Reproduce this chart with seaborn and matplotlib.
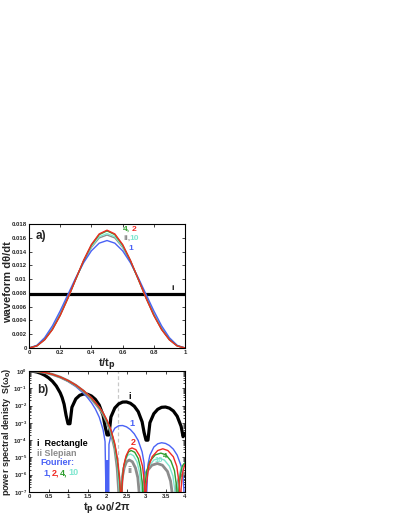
import seaborn as sns
import matplotlib.pyplot as plt
import numpy as np
from matplotlib.ticker import MultipleLocator, FuncFormatter, LogLocator, NullFormatter

# Panel a) waveforms, t/t_p
t_vals = [0, 0.05, 0.1, 0.15, 0.2, 0.25, 0.3, 0.35, 0.4, 0.45, 0.5,
          0.55, 0.6, 0.65, 0.7, 0.75, 0.8, 0.85, 0.9, 0.95, 1.0]
wave_rect_t = [0, 1]
wave_rect = [0.0079, 0.0079]
wave_f1 = [0, 0.00038, 0.00149, 0.00321, 0.00539, 0.0078, 0.01021, 0.01238, 0.01411, 0.01522, 0.0156,
           0.01522, 0.01411, 0.01238, 0.01021, 0.0078, 0.00539, 0.00321, 0.00149, 0.00038, 0]
wave_f2 = [0, 0.00029, 0.00118, 0.00267, 0.00473, 0.00725, 0.01002, 0.01273, 0.01502, 0.01656, 0.0171,
           0.01656, 0.01502, 0.01273, 0.01002, 0.00725, 0.00473, 0.00267, 0.00118, 0.00029, 0]
wave_f4 = [0, 0.00030, 0.00120, 0.00270, 0.00476, 0.00727, 0.01000, 0.01268, 0.01494, 0.01646, 0.0170,
           0.01646, 0.01494, 0.01268, 0.01000, 0.00727, 0.00476, 0.00270, 0.00120, 0.00030, 0]
wave_f10 = [0, 0.00032, 0.00127, 0.00281, 0.00490, 0.00737, 0.01003, 0.01259, 0.01473, 0.01617, 0.0166,
            0.01617, 0.01473, 0.01259, 0.01003, 0.00737, 0.00490, 0.00281, 0.00127, 0.00032, 0]
wave_slep = [0, 0.00033, 0.00131, 0.00288, 0.00498, 0.00745, 0.01005, 0.01253, 0.01460, 0.01598, 0.0164,
             0.01598, 0.01460, 0.01253, 0.01005, 0.00745, 0.00498, 0.00288, 0.00131, 0.00033, 0]

# Panel b) spectra, exponents of 10 (read off the log axis)
rect_x = [0, 0.1, 0.2, 0.3, 0.4, 0.5, 0.6, 0.7, 0.8, 0.85, 0.9, 0.95, 1.0, 1.05, 1.1,
          1.2, 1.3, 1.4, 1.5, 1.6, 1.7, 1.8, 1.9, 1.95, 2.0, 2.05, 2.1,
          2.2, 2.3, 2.4, 2.5, 2.6, 2.7, 2.8, 2.9, 2.95, 3.0, 3.05, 3.1,
          3.2, 3.3, 3.4, 3.5, 3.6, 3.7, 3.8, 3.9, 3.95, 4.0]
rect_e = [0, -0.014, -0.058, -0.133, -0.242, -0.392, -0.594, -0.869, -1.262, -1.539, -1.923, -2.56, -3.05, -3.05, -2.10,
          -1.614, -1.406, -1.330, -1.344, -1.446, -1.639, -1.966, -2.572, -3.19, -3.7, -3.7, -2.66,
          -2.14, -1.902, -1.798, -1.79, -1.868, -2.041, -2.35, -2.94, -3.55, -4.0, -4.0, -2.99,
          -2.47, -2.216, -2.10, -2.084, -2.15, -2.31, -2.62, -3.20, -3.80, -3.6]

f1_x = [0, 0.2, 0.4, 0.6, 0.8, 1.0, 1.2, 1.4, 1.5, 1.6, 1.7, 1.8, 1.9, 1.95,
        1.98, 1.99, 2.0, 2.01, 2.02, 2.03, 2.04,
        2.05, 2.1, 2.2, 2.3, 2.4, 2.5, 2.6, 2.7, 2.8, 2.9, 2.95,
        3.0, 3.05, 3.1, 3.2, 3.3, 3.4, 3.5, 3.6, 3.7, 3.8, 3.9, 3.95, 4.0]
f1_e = [0, -0.022, -0.091, -0.206, -0.375, -0.602, -0.901, -1.295, -1.54, -1.832, -2.192, -2.666, -3.405, -4.08,
        -8, -5.2, -8, -5.2, -8, -5.2, -8,
        -4.24, -3.725, -3.31, -3.167, -3.154, -3.23, -3.39, -3.638, -4.02, -4.68, -5.32,
        -8, -5.41, -4.87, -4.40, -4.21, -4.15, -4.19, -4.31, -4.52, -4.87, -5.50, -6.13, -8]

f2_x = [0, 0.2, 0.4, 0.6, 0.8, 1.0, 1.2, 1.4, 1.6, 1.8, 1.9, 2.0, 2.1, 2.2, 2.27, 2.32, 2.37,
        2.39, 2.43, 2.49, 2.57, 2.64, 2.74, 2.84, 2.91, 2.96, 2.98,
        3.01, 3.07, 3.16, 3.3, 3.43, 3.56, 3.7, 3.79, 3.85, 3.88,
        3.9, 3.93, 3.97, 4.0]
f2_e = [0, -0.02, -0.085, -0.19, -0.345, -0.55, -0.81, -1.14, -1.55, -2.08, -2.42, -2.85, -3.4, -4.2, -5.1, -6.1, -8,
        -6.5, -5.45, -4.9, -4.53, -4.45, -4.55, -4.92, -5.5, -6.5, -8,
        -6.55, -5.5, -4.95, -4.6, -4.5, -4.6, -4.96, -5.52, -6.55, -8,
        -6.8, -6.0, -5.6, -5.4]

f4_x = [0, 0.2, 0.4, 0.6, 0.8, 1.0, 1.2, 1.4, 1.6, 1.8, 1.9, 2.0, 2.1, 2.2, 2.27, 2.32, 2.36,
        2.38, 2.42, 2.48, 2.55, 2.62, 2.71, 2.8, 2.86, 2.91, 2.93,
        2.96, 3.02, 3.1, 3.24, 3.38, 3.51, 3.64, 3.73, 3.79, 3.82,
        3.84, 3.88, 3.93, 4.0]
f4_e = [0, -0.02, -0.086, -0.192, -0.35, -0.555, -0.82, -1.15, -1.57, -2.1, -2.45, -2.9, -3.45, -4.3, -5.25, -6.4, -8,
        -6.65, -5.6, -5.05, -4.68, -4.6, -4.7, -5.06, -5.62, -6.65, -8,
        -6.8, -5.77, -5.21, -4.85, -4.75, -4.85, -5.21, -5.77, -6.8, -8,
        -6.9, -6.0, -5.5, -5.3]

f10_x = [0, 0.2, 0.4, 0.6, 0.8, 1.0, 1.2, 1.4, 1.6, 1.8, 1.9, 2.0, 2.1, 2.2, 2.27, 2.31, 2.35,
         2.37, 2.41, 2.46, 2.53, 2.6, 2.68, 2.77, 2.83, 2.88, 2.9,
         2.93, 2.99, 3.07, 3.2, 3.34, 3.47, 3.6, 3.69, 3.75, 3.78,
         3.8, 3.84, 3.9, 4.0]
f10_e = [0, -0.02, -0.087, -0.195, -0.352, -0.56, -0.825, -1.16, -1.58, -2.12, -2.48, -2.93, -3.5, -4.4, -5.4, -6.7, -8,
         -6.85, -5.8, -5.25, -4.88, -4.8, -4.9, -5.26, -5.82, -6.85, -8,
         -7.1, -6.07, -5.51, -5.15, -5.05, -5.15, -5.51, -6.07, -7.1, -8,
         -7.0, -6.1, -5.6, -5.3]

slep_x = [0, 0.2, 0.4, 0.6, 0.8, 1.0, 1.2, 1.4, 1.6, 1.8, 1.9, 2.0, 2.1, 2.2, 2.26, 2.3, 2.34,
          2.36, 2.39, 2.44, 2.5, 2.57, 2.65, 2.73, 2.79, 2.83, 2.85,
          2.88, 2.94, 3.02, 3.15, 3.29, 3.42, 3.55, 3.63, 3.69, 3.72,
          3.74, 3.79, 3.87, 4.0]
slep_e = [0, -0.02, -0.088, -0.197, -0.355, -0.565, -0.83, -1.17, -1.6, -2.15, -2.5, -2.97, -3.55, -4.5, -5.6, -7.0, -8,
          -7.2, -6.17, -5.6, -5.25, -5.15, -5.25, -5.61, -6.17, -7.2, -8,
          -7.4, -6.37, -5.81, -5.45, -5.35, -5.45, -5.81, -6.37, -7.4, -8,
          -7.5, -6.6, -6.1, -5.9]

cutoff_x = 2.28

c_rect = "black"
c_slep = "#8c8c8c"
c1 = "#4a62f5"
c2 = "#f02a24"
c4 = "#2e9e2e"
c10 = "#7ee6cf"

sns.set_theme(style="ticks")
plt.rcParams['font.family'] = ['Liberation Sans', 'DejaVu Sans']
plt.rcParams['mathtext.fontset'] = 'dejavusans'

fig = plt.figure(figsize=(3.99, 5.16), dpi=100)
ax1 = fig.add_axes([0.0727, 0.3256, 0.391, 0.2403])
ax2 = fig.add_axes([0.0727, 0.0465, 0.391, 0.2345])

# ---- panel a
sns.lineplot(x=wave_rect_t, y=wave_rect, ax=ax1, color=c_rect, lw=2.3, estimator=None)
sns.lineplot(x=t_vals, y=wave_slep, ax=ax1, color=c_slep, lw=1.0, estimator=None)
sns.lineplot(x=t_vals, y=wave_f10, ax=ax1, color=c10, lw=1.0, estimator=None)
sns.lineplot(x=t_vals, y=wave_f1, ax=ax1, color=c1, lw=1.0, estimator=None)
sns.lineplot(x=t_vals, y=wave_f4, ax=ax1, color=c4, lw=1.0, estimator=None)
sns.lineplot(x=t_vals, y=wave_f2, ax=ax1, color=c2, lw=1.0, estimator=None)
ax1.set_xlim(0, 1)
ax1.set_ylim(0, 0.018)
ax1.xaxis.set_major_locator(MultipleLocator(0.2))
ax1.yaxis.set_major_locator(MultipleLocator(0.002))
ax1.xaxis.set_major_formatter(FuncFormatter(lambda v, p: "%g" % round(v, 4)))
ax1.yaxis.set_major_formatter(FuncFormatter(lambda v, p: "%g" % round(v, 4)))
ax1.set_xlabel("t/t$_\\mathbf{p}$", fontsize=8, fontweight="bold", labelpad=1)
ax1.set_ylabel("waveform d\u03b8/dt", fontsize=8, fontweight="bold")
ax1.yaxis.set_label_coords(-0.105, 0.53)

tkw = dict(fontsize=6, fontweight="bold", va="center", ha="left")
ax1.text(0.04, 0.0162, "a)", fontsize=8.5, fontweight="bold", va="center", ha="left")
ax1.text(0.60, 0.01725, "4,", color=c4, **tkw)
ax1.text(0.66, 0.01725, "2", color=c2, **tkw)
ax1.text(0.605, 0.01585, "ii,", color=c_slep, **tkw)
ax1.text(0.645, 0.01585, "10", color=c10, **tkw)
ax1.text(0.635, 0.01445, "1", color=c1, **tkw)
ax1.text(0.915, 0.0087, "i", color=c_rect, **tkw)

# ---- panel b
ax2.axvline(cutoff_x, color="#c8c8c8", lw=0.9, ls=(0, (3, 2)))
sns.lineplot(x=rect_x, y=10.0 ** np.array(rect_e), ax=ax2, color=c_rect, lw=2.3, estimator=None)
sns.lineplot(x=f1_x, y=10.0 ** np.array(f1_e), ax=ax2, color=c1, lw=1.0, estimator=None)
sns.lineplot(x=slep_x, y=10.0 ** np.array(slep_e), ax=ax2, color=c_slep, lw=2.0, estimator=None)
sns.lineplot(x=f10_x, y=10.0 ** np.array(f10_e), ax=ax2, color=c10, lw=1.0, estimator=None)
sns.lineplot(x=f4_x, y=10.0 ** np.array(f4_e), ax=ax2, color=c4, lw=1.0, estimator=None)
sns.lineplot(x=f2_x, y=10.0 ** np.array(f2_e), ax=ax2, color=c2, lw=1.0, estimator=None)
ax2.set_yscale("log")
ax2.set_xlim(0, 4)
ax2.set_ylim(1e-7, 1)
ax2.xaxis.set_major_locator(MultipleLocator(0.5))
ax2.xaxis.set_major_formatter(FuncFormatter(lambda v, p: "%g" % v))
ax2.yaxis.set_major_locator(LogLocator(base=10, numticks=10))
ax2.yaxis.set_minor_locator(LogLocator(base=10, subs=np.arange(2, 10), numticks=10))
ax2.yaxis.set_minor_formatter(NullFormatter())
ax2.set_xlabel("t$_\\mathbf{p}$ \u03c9$_\\mathbf{0}$/2\u03c0", fontsize=8, fontweight="bold", labelpad=1)
ax2.set_ylabel("power spectral denisty  S(\u03c9$_\\mathbf{0}$)", fontsize=6.5, fontweight="bold")
ax2.yaxis.set_label_coords(-0.105, 0.5)

lkw = dict(fontsize=6.5, fontweight="bold", va="center", ha="left")
ax2.text(0.2, 10 ** -1.1, "b)", fontsize=8.5, fontweight="bold", va="center", ha="left")
ax2.text(0.2, 10 ** -4.17, "i  Rectangle", color=c_rect, **lkw)
ax2.text(0.2, 10 ** -4.75, "ii Slepian", color=c_slep, **lkw)
ax2.text(0.3, 10 ** -5.3, "Fourier:", color=c1, **lkw)
ax2.text(0.36, 10 ** -5.9, "1,", color=c1, **lkw)
ax2.text(0.58, 10 ** -5.9, "2,", color=c2, **lkw)
ax2.text(0.79, 10 ** -5.9, "4,", color=c4, **lkw)
ax2.text(1.0, 10 ** -5.9, "10", color=c10, **lkw)
ax2.text(2.54, 10 ** -1.45, "i", color=c_rect, **lkw)
ax2.text(2.58, 10 ** -3.05, "1", color=c1, **lkw)
ax2.text(2.6, 10 ** -4.15, "2", color=c2, **lkw)
ax2.text(2.53, 10 ** -5.75, "ii", color=c_slep, **lkw)
ax2.text(3.42, 10 ** -4.95, "4", color=c4, fontsize=5.5, fontweight="bold", va="center", ha="left")
ax2.text(3.22, 10 ** -5.2, "10", color=c10, fontsize=5.5, fontweight="bold", va="center", ha="left")

for ax in (ax1, ax2):
    for s in ax.spines.values():
        s.set_linewidth(0.8)
        s.set_color("black")
    ax.tick_params(which="both", direction="in", top=True, right=True, labelsize=4.3,
                   width=0.6, pad=1.5)
    ax.tick_params(which="major", length=2.5)
    ax.tick_params(which="minor", length=1.3)
    for lab in ax.get_xticklabels() + ax.get_yticklabels():
        lab.set_fontweight("bold")

fig.savefig("out.png", dpi=100)
